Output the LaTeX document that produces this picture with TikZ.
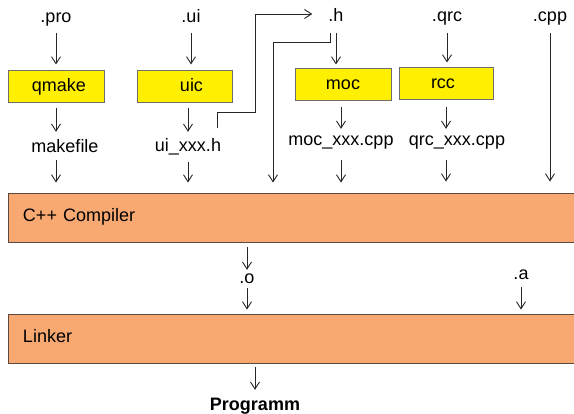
\documentclass[tikz,border=0pt]{standalone}
\usepackage{fontspec}
\setmainfont{Liberation Sans}
\usetikzlibrary{arrows.meta}
\definecolor{boxyellow}{HTML}{FFEF00}
\definecolor{boxorange}{HTML}{F7A971}
\definecolor{edgegray}{HTML}{6E6E6E}
\definecolor{edgebrown}{HTML}{5C4A40}
\tikzset{
  every node/.style={font=\fontsize{18}{20}\selectfont, inner sep=0pt, text height=13pt, text depth=4pt},
  lbl/.style={anchor=base},
  tool/.style={draw=edgegray, line width=1pt, fill=boxyellow, minimum height=32pt},
  stage/.style={draw=edgebrown, line width=0.9pt, fill=boxorange, minimum width=572pt, minimum height=49pt, text width=542pt, align=left},
  arr/.style={line width=0.9pt, draw=black!85, -{Straight Barb[length=7pt,width=9pt,line width=0.9pt]}}
}
\begin{document}
\begin{tikzpicture}[x=1pt,y=-1pt]
\useasboundingbox (0,0) rectangle (574,414);
% inputs
\node[lbl] (pro) at (56,23) {.pro};
\node[lbl] (ui) at (191,23) {.ui};
\node[lbl] (h) at (336,22) {.h};
\node[lbl] (qrc) at (447,22) {.qrc};
\node[lbl] (cpp) at (550,22) {.cpp};
% tools
\node[tool, minimum width=96pt] (qmake) at (56,87) {\hspace*{6pt}qmake};
\node[tool, minimum width=95pt] (uic) at (184.5,87) {\hspace*{14pt}uic};
\node[tool, minimum width=96pt] (moc) at (343,85) {moc};
\node[tool, minimum width=94pt] (rcc) at (446,84) {rcc\hspace*{6pt}};
% outputs
\node[lbl] (makefile) at (65,153) {makefile};
\node[lbl] (uixxxh) at (188,152) {ui\_xxx.h};
\node[lbl] (mocxxx) at (341,146) {moc\_xxx.cpp};
\node[lbl] (qrcxxx) at (457,146) {qrc\_xxx.cpp};
% stages
\node[stage] (comp) at (294,217.5) {C++ Compiler};
\node[lbl] (o) at (247,284) {.o};
\node[lbl] (a) at (521,280) {.a};
\node[stage] (link) at (294,338.5) {Linker};
\node[lbl] (prog) at (255,411) {\bfseries Programm};
% connectors
\draw[arr,shorten <=6pt,shorten >=6pt] (pro.south) -- (pro.south |- qmake.north);
\draw[arr,shorten <=5pt,shorten >=8pt] (qmake.south) -- (qmake.south |- makefile.north);
\draw[arr,shorten <=3pt,shorten >=10pt] (makefile.south -| qmake.south) -- (qmake.south |- comp.north);
\draw[arr,shorten <=6pt,shorten >=6pt] (ui.south) -- (ui.south |- uic.north);
\draw[arr,shorten <=5pt,shorten >=7pt] (uixxxh.north |- uic.south) -- (uixxxh.north);
\draw[arr,shorten <=6pt,shorten >=10pt] (uixxxh.south) -- (uixxxh.south |- comp.north);
\coordinate (e1) at (217,128);
\draw[arr,shorten >=16pt] (e1) -- (217,112) -- (255,112) -- (255,14) -- (h.west |- 255,14);
\draw[arr,shorten <=7pt,shorten >=4pt] (h.south) -- (h.south |- moc.north);
\coordinate (e2) at (330,33);
\draw[arr,shorten >=10pt] (e2) -- (330,42) -- (273,42) -- (273,42 |- comp.north);
\draw[arr,shorten <=6pt,shorten >=4pt] (mocxxx.north |- moc.south) -- (mocxxx.north);
\draw[arr,shorten <=10pt,shorten >=10pt] (mocxxx.south) -- (mocxxx.south |- comp.north);
\draw[arr,shorten <=7pt,shorten >=5pt] (qrc.south) -- (qrc.south |- rcc.north);
\draw[arr,shorten <=7pt,shorten >=4pt] (rcc.south) -- (rcc.south |- qrcxxx.north);
\draw[arr,shorten <=10pt,shorten >=11pt] (qrcxxx.south -| rcc.south) -- (rcc.south |- comp.north);
\draw[arr,shorten <=7pt,shorten >=11pt] (cpp.south) -- (cpp.south |- comp.north);
\draw[arr,shorten <=5pt,shorten >=1pt] (o.north |- comp.south) -- (o.north);
\draw[arr,shorten <=0pt,shorten >=4pt] (o.south) -- (o.south |- link.north);
\draw[arr,shorten <=3pt,shorten >=4pt] (a.south) -- (a.south |- link.north);
\draw[arr,shorten <=4pt,shorten >=8pt] (prog.north |- link.south) -- (prog.north);
\end{tikzpicture}
\end{document}
